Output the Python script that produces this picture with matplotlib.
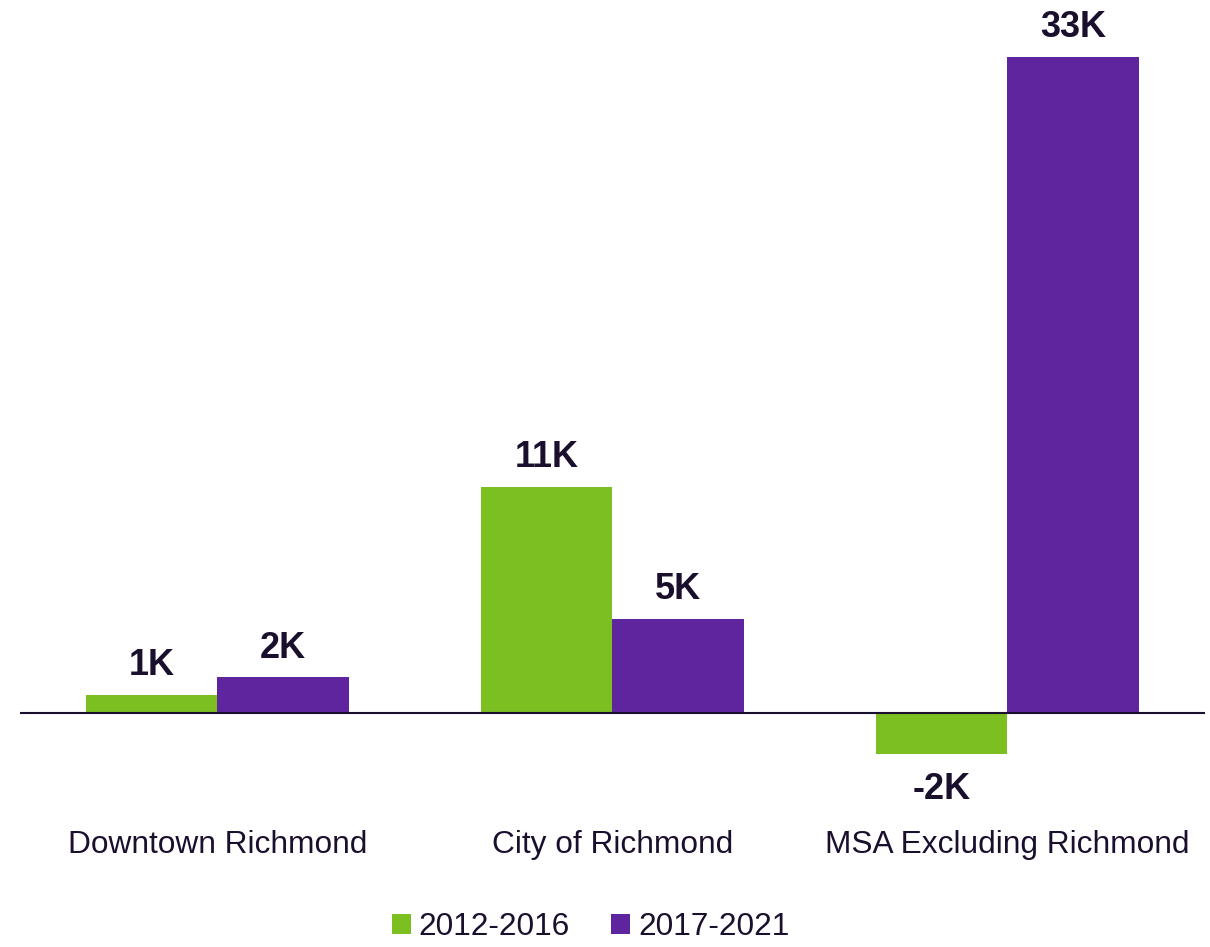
import numpy as np
import matplotlib.pyplot as plt

plt.rcParams['font.family'] = ['Liberation Sans', 'DejaVu Sans']

categories = ['Downtown Richmond', 'City of Richmond', 'MSA Excluding Richmond']
series = ['2012-2016', '2017-2021']
vals_2012 = [0.9, 11.37, -2.05]   # thousands
vals_2017 = [1.8, 4.73, 33.0]
labels_2012 = ['1K', '11K', '-2K']
labels_2017 = ['2K', '5K', '33K']

green = '#7bbf21'
purple = '#5e259e'
txt = '#1b0f2e'

W, H = 1210, 947
fig = plt.figure(figsize=(W / 100, H / 100), dpi=100)
ax = fig.add_axes([20 / W, (H - 800) / H, 1185 / W, 780 / H])

x = np.arange(len(categories))
w = 0.332
b1 = ax.bar(x - w / 2, vals_2012, w, color=green, label=series[0])
b2 = ax.bar(x + w / 2, vals_2017, w, color=purple, label=series[1])

ax.set_xlim(-0.5, 2.5)
ppk = 19.88
ax.set_ylim(-(800 - 713) / ppk, (713 - 20) / ppk)
ax.axhline(0, color=txt, lw=1.5)
ax.axis('off')

for bars, labs in [(b1, labels_2012), (b2, labels_2017)]:
    for r, lab in zip(bars, labs):
        v = r.get_height()
        xc = r.get_x() + r.get_width() / 2
        off = 21 if v >= 0 else -26
        ax.annotate(lab, (xc, v), xytext=(0, off), textcoords='offset points',
                    ha='center', va='center', fontsize=26, fontweight='bold', color=txt)

for i, c in enumerate(categories):
    ax.annotate(c, (i, 0), xytext=(0, -95), textcoords='offset points',
                ha='center', va='center', fontsize=22.8, color=txt)

leg = fig.legend(loc='center', bbox_to_anchor=(0.488, 0.021), ncol=2, frameon=False,
                 fontsize=22.8, handlelength=0.6, handleheight=0.6, handletextpad=0.25,
                 columnspacing=1.3, borderpad=0)
for t in leg.get_texts():
    t.set_color(txt)

fig.savefig('out.png', dpi=100)
